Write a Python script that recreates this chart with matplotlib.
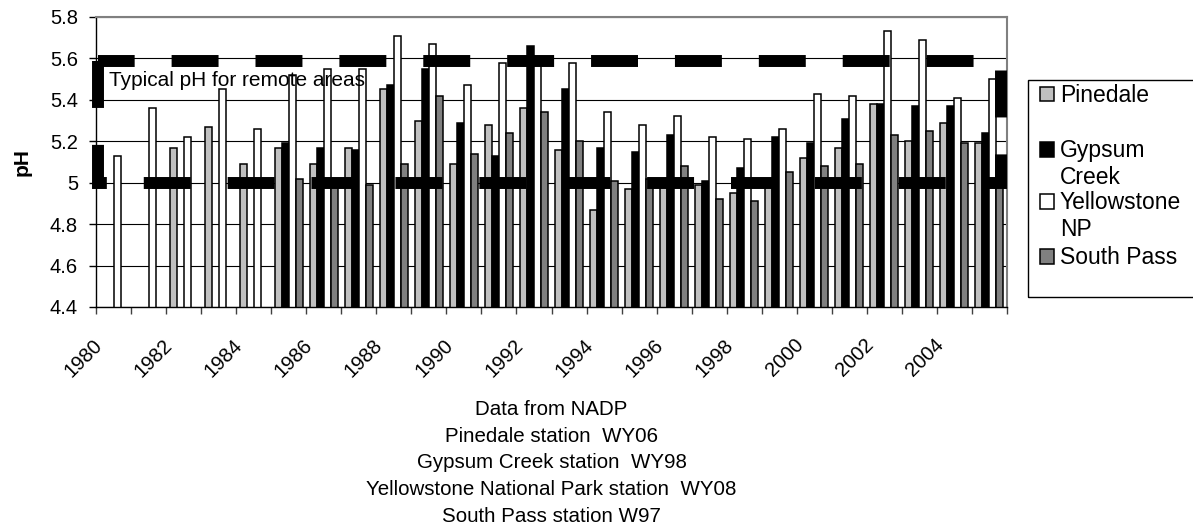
import numpy as np
import matplotlib
matplotlib.use('Agg')
import matplotlib.pyplot as plt
from matplotlib.patches import Rectangle
from matplotlib.lines import Line2D
from matplotlib.transforms import ScaledTranslation

plt.rcParams['font.family'] = ['Liberation Sans', 'DejaVu Sans']
plt.rcParams['lines.scale_dashes'] = False

nan = np.nan

# pH values, 1980-2005
years = list(range(1980, 2006))
pinedale = [nan, nan, 5.17, 5.27, 5.09, 5.17, 5.09, 5.17, 5.45, 5.30, 5.09, 5.28, 5.36,
            5.16, 4.87, 4.97, 5.00, 4.99, 4.95, 5.01, 5.12, 5.17, 5.38, 5.20, 5.29, 5.19]
gypsum_creek = [nan, nan, nan, nan, nan, 5.19, 5.17, 5.16, 5.47, 5.55, 5.29, 5.13, 5.66,
                5.45, 5.17, 5.15, 5.23, 5.01, 5.07, 5.22, 5.19, 5.31, 5.38, 5.37, 5.37, 5.24]
yellowstone = [5.13, 5.36, 5.22, 5.45, 5.26, 5.52, 5.55, 5.55, 5.71, 5.67, 5.47, 5.58, 5.59,
               5.58, 5.34, 5.28, 5.32, 5.22, 5.21, 5.26, 5.43, 5.42, 5.73, 5.69, 5.41, 5.50]
south_pass = [nan, nan, nan, nan, nan, 5.02, 5.00, 4.99, 5.09, 5.42, 5.14, 5.24, 5.34,
              5.20, 5.01, 5.02, 5.08, 4.92, 4.91, 5.05, 5.08, 5.09, 5.23, 5.25, 5.19, 5.10]

series_names = ['Pinedale', 'Gypsum\nCreek', 'Yellowstone\nNP', 'South Pass']
series_values = [pinedale, gypsum_creek, yellowstone, south_pass]
series_colors = ['#c0c0c0', '#000000', '#ffffff', '#808080']

# typical range for remote areas
typical_low, typical_high = 5.0, 5.59
typical_label = 'Typical pH for remote areas'

y_ticks = [4.4, 4.6, 4.8, 5.0, 5.2, 5.4, 5.6, 5.8]
label_years = years[::2]

notes = ['Data from NADP',
         'Pinedale station  WY06',
         'Gypsum Creek station  WY98',
         'Yellowstone National Park station  WY08',
         'South Pass station W97']

W, H = 1193, 529
fig = plt.figure(figsize=(W / 100, H / 100), dpi=100)
ax = fig.add_axes([96 / W, 1 - 307 / H, 911 / W, 290 / H])

x = np.arange(len(years))
bar_w = 0.2
offsets = [-0.3, -0.1, 0.1, 0.3]
for vals, col, off in zip(series_values, series_colors, offsets):
    ax.bar(x + off, vals, width=bar_w, color=col, edgecolor='black', linewidth=1.1, zorder=2)

ax.set_xlim(-0.5, len(years) - 0.5)
ax.set_ylim(4.4, 5.8)
ax.set_yticks(y_ticks)
ax.set_yticklabels([f'{v:g}' for v in y_ticks], fontsize=14.5)
ax.tick_params(axis='y', length=5, width=1, pad=8, colors='black')

ax.set_xticks(np.arange(-0.5, len(years), 1.0))
ax.set_xticklabels([])
ax.tick_params(axis='x', length=5, width=1, color='#404040')

ax.grid(axis='y', color='black', linewidth=0.8)
ax.set_axisbelow(True)

for side in ['top', 'right']:
    ax.spines[side].set_color('#808080')
    ax.spines[side].set_linewidth(1.5)
for side in ['left', 'bottom']:
    ax.spines[side].set_color('black')
    ax.spines[side].set_linewidth(1.0)

# rotated year labels
off = ScaledTranslation(-14 / 100, -35 / 100, fig.dpi_scale_trans)
for yr in label_years:
    ax.text(years.index(yr), 0, str(yr), transform=ax.get_xaxis_transform() + off,
            rotation=45, ha='right', va='center', rotation_mode='anchor', fontsize=14.5)

# dashed box marking typical pH
x0, x1 = -0.43, len(years) - 0.67
box = Line2D([x0, x0, x1, x1, x0], [typical_high, typical_low, typical_low, typical_high, typical_high],
             color='black', linewidth=8.6, linestyle=(0, (33.8, 26.6)),
             dash_joinstyle='miter', dash_capstyle='butt', clip_on=False, zorder=4)
ax.add_line(box)
fig.text(109 / W, 1 - 86 / H, typical_label, fontsize=15, ha='left', va='baseline', zorder=5)

fig.text(22 / W, 1 - 162 / H, 'pH', fontsize=15, fontweight='bold', rotation=90,
         ha='center', va='center')

# notes under the chart
for i, line in enumerate(notes):
    fig.text(551.5 / W, 1 - (415 + 26.7 * i) / H, line, fontsize=14.8, ha='center', va='baseline')

# legend drawn by hand, clipped at the right edge like the original
fig.add_artist(Rectangle((1028 / W, 1 - 297 / H), 300 / W, 217 / H, transform=fig.transFigure,
                         fill=False, edgecolor='black', linewidth=1.0))
entry_base = [102, 157, 209, 264]
for name, col, base in zip(series_names, series_colors, entry_base):
    fig.add_artist(Rectangle((1040 / W, 1 - (base - 0.5) / H), 14 / W, 14 / H,
                             transform=fig.transFigure, facecolor=col, edgecolor='black',
                             linewidth=1.1))
    for j, part in enumerate(name.split('\n')):
        fig.text(1060 / W, 1 - (base + 27 * j) / H, part, fontsize=16.5, ha='left', va='baseline')

fig.savefig('out.png', dpi=100)
